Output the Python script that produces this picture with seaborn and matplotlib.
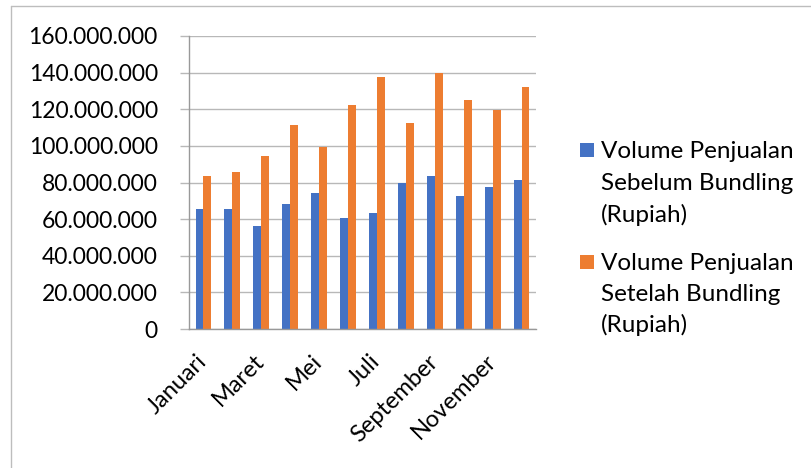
import matplotlib
matplotlib.use("Agg")
import matplotlib.pyplot as plt
import pandas as pd
import numpy as np
import seaborn as sns
from matplotlib.patches import Rectangle
from matplotlib.lines import Line2D
from matplotlib.ticker import FuncFormatter

# data (rupiah)
bulan = ['Januari', 'Februari', 'Maret', 'April', 'Mei', 'Juni',
         'Juli', 'Agustus', 'September', 'Oktober', 'November', 'Desember']
sebelum = [65500000, 65500000, 56500000, 68500000, 74500000, 60400000,
           63300000, 80000000, 83500000, 72400000, 77300000, 81500000]
setelah = [83600000, 85500000, 94700000, 111500000, 99600000, 122500000,
           137600000, 112700000, 140000000, 125300000, 119600000, 132000000]
seri = ['Volume Penjualan\nSebelum Bundling\n(Rupiah)',
        'Volume Penjualan\nSetelah Bundling\n(Rupiah)']
warna = ['#4472C4', '#ED7D31']
yticks = [0, 20000000, 40000000, 60000000, 80000000,
          100000000, 120000000, 140000000, 160000000]

df = pd.DataFrame({
    'bulan': bulan * 2,
    'nilai': sebelum + setelah,
    'seri': [seri[0]] * len(bulan) + [seri[1]] * len(bulan),
})

sns.set_theme(style='white')
plt.rcParams['font.family'] = ['Lato', 'DejaVu Sans']

W, H = 812, 468
fig = plt.figure(figsize=(W / 100, H / 100), dpi=100)

def px(x, y):
    return x / W, 1 - y / H

ax = fig.add_axes([189 / W, 139 / H, 347 / W, 293 / H])

sns.barplot(data=df, x='bulan', y='nilai', hue='seri', order=bulan,
            hue_order=seri, palette=warna, saturation=1, width=0.55,
            linewidth=0, legend=False, ax=ax)

grid_col = '#b8b8b8'
axis_col = '#999999'

ax.set_ylim(0, 160000000)
ax.set_xlim(-0.5, len(bulan) - 0.5)
ax.set_yticks(yticks)
ax.yaxis.set_major_formatter(FuncFormatter(lambda v, p: f"{int(v):,}".replace(',', '.')))
ax.grid(axis='y', color=grid_col, linewidth=1.0)
ax.set_axisbelow(True)

# category labels: every other month, like the original
ax.set_xticks(range(len(bulan)))
ax.set_xticklabels([b if i % 2 == 0 else '' for i, b in enumerate(bulan)],
                   rotation=45, ha='right', rotation_mode='anchor', va='center')
ax.set_xticks(np.arange(-0.5, len(bulan), 1), minor=True)
ax.tick_params(axis='x', which='major', length=0, pad=21, labelsize=17, labelcolor='black')
ax.tick_params(axis='x', which='minor', length=6.5, width=1, color=axis_col, direction='out')
ax.tick_params(axis='y', length=6.5, width=1, color=grid_col, pad=16, labelsize=16.5,
               labelcolor='black', left=True)

ax.set_xlabel('')
ax.set_ylabel('')
for s in ['top', 'right']:
    ax.spines[s].set_visible(False)
for s in ['left', 'bottom']:
    ax.spines[s].set_color(axis_col)
    ax.spines[s].set_linewidth(1)

# legend on the right, drawn by hand
baselines = [[158, 190, 222], [270, 301, 332]]
for i, lab in enumerate(seri):
    x0, y0 = px(580, 157 + 112 * i)
    fig.add_artist(Rectangle((x0, y0), 14 / W, 14 / H, transform=fig.transFigure,
                             facecolor=warna[i], edgecolor='none'))
    for line, yb in zip(lab.split('\n'), baselines[i]):
        tx, ty = px(601, yb)
        fig.text(tx, ty, line, fontsize=17.5, color='black', va='baseline', ha='left')

# chart frame (left and top edges visible)
fx, fy = px(11.5, 5.5)
fig.add_artist(Line2D([fx, fx], [0, fy], transform=fig.transFigure, color='#bdbdbd', linewidth=1))
fig.add_artist(Line2D([fx, 1], [fy, fy], transform=fig.transFigure, color='#bdbdbd', linewidth=1))

fig.savefig('out.png', dpi=100)
